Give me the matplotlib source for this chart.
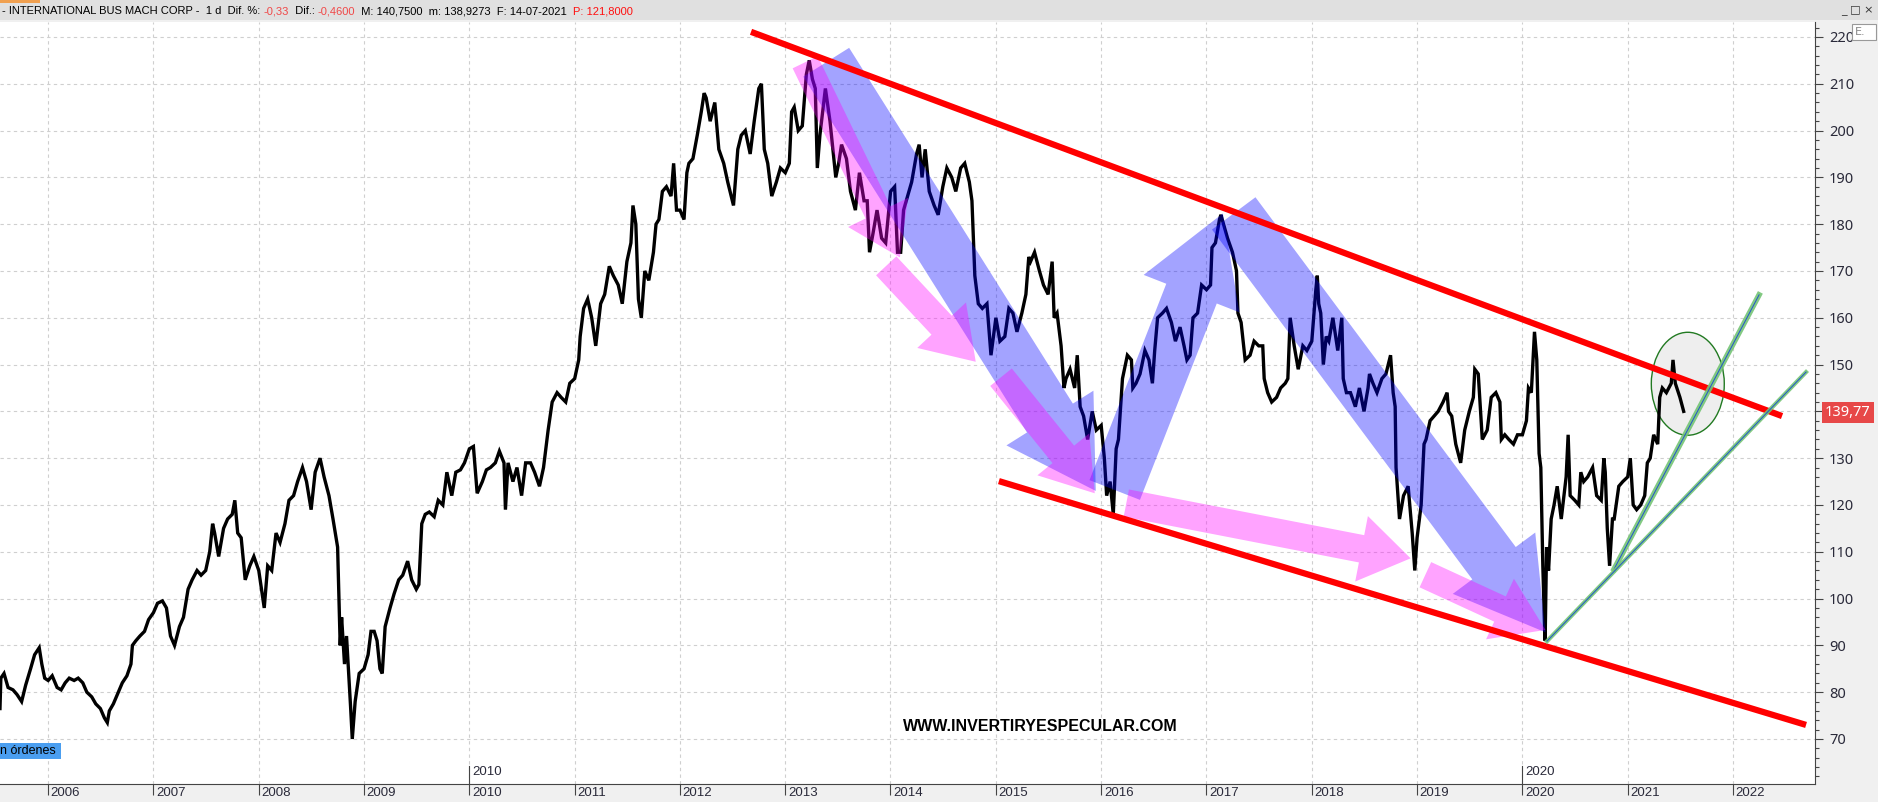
import pandas as pd
import matplotlib
matplotlib.use("Agg")
import matplotlib.pyplot as plt
import matplotlib.transforms as mtransforms
from matplotlib import font_manager
from matplotlib.patches import Ellipse, Rectangle
from matplotlib.ticker import MultipleLocator, FuncFormatter

# IBM daily price at roughly two points per month (month-day, price)
ibm_2005 = [("07-18", 76.5), ("07-21", 83), ("08-01", 84), ("08-15", 81), ("09-01", 80.5), ("09-15", 79.5),
            ("10-01", 78), ("10-15", 81.5), ("11-01", 85), ("11-15", 88), ("12-01", 89.5), ("12-10", 86),
            ("12-20", 83)]
ibm_2006 = [("01-01", 82.5), ("01-15", 83.5), ("02-01", 81), ("02-15", 80.5), ("03-01", 82), ("03-15", 83),
            ("04-01", 82.5), ("04-15", 83), ("05-01", 82), ("05-15", 80), ("06-01", 79), ("06-15", 77.5),
            ("07-01", 76.5), ("07-15", 74.5), ("07-25", 73.5), ("08-01", 76), ("08-15", 77.5), ("09-01", 80),
            ("09-15", 82), ("10-01", 83.5), ("10-15", 86), ("10-20", 90), ("11-01", 91), ("11-15", 92),
            ("12-01", 93), ("12-15", 95.5)]
ibm_2007 = [("01-01", 97), ("01-15", 99), ("02-01", 99.5), ("02-15", 98), ("03-01", 92), ("03-15", 90),
            ("04-01", 94), ("04-15", 96), ("05-01", 102), ("05-15", 104), ("06-01", 106), ("06-15", 105),
            ("07-01", 106), ("07-15", 110), ("07-25", 116), ("08-01", 114), ("08-15", 109), ("09-01", 115),
            ("09-15", 117), ("10-01", 118), ("10-10", 121), ("10-20", 114), ("11-01", 113), ("11-15", 104),
            ("12-01", 107), ("12-15", 109)]
ibm_2008 = [("01-01", 106), ("01-20", 98), ("02-01", 107), ("02-15", 106), ("03-01", 114), ("03-15", 112),
            ("04-01", 116), ("04-15", 121), ("05-01", 122), ("05-15", 125), ("06-01", 128), ("06-15", 125),
            ("07-01", 119), ("07-15", 127), ("08-01", 130), ("08-15", 126), ("09-01", 122), ("09-15", 117),
            ("10-01", 111), ("10-10", 90), ("10-15", 96), ("10-25", 86), ("11-01", 92), ("11-15", 77),
            ("11-21", 70), ("12-01", 78), ("12-15", 84)]
ibm_2009 = [("01-01", 85), ("01-15", 88), ("01-25", 93), ("02-05", 93), ("02-15", 91), ("02-25", 85),
            ("03-05", 84), ("03-15", 94), ("04-01", 98), ("04-15", 101), ("05-01", 104), ("05-15", 105),
            ("06-01", 108), ("06-15", 104), ("07-01", 102), ("07-10", 103), ("07-20", 116), ("08-01", 118),
            ("08-15", 118.5), ("09-01", 117.5), ("09-15", 121), ("10-01", 120), ("10-15", 127), ("11-01", 122),
            ("11-15", 127), ("12-01", 127.5), ("12-15", 129)]
ibm_2010 = [("01-01", 132), ("01-15", 132.5), ("01-28", 122.5), ("02-15", 125), ("03-01", 127.5), ("03-15", 128),
            ("04-01", 129), ("04-15", 131.5), ("05-01", 129), ("05-06", 119), ("05-15", 129), ("06-01", 125),
            ("06-15", 128), ("07-01", 122), ("07-15", 129), ("08-01", 129), ("08-15", 127), ("09-01", 124),
            ("09-15", 128), ("10-01", 136), ("10-15", 142), ("11-01", 144), ("11-15", 143), ("12-01", 142),
            ("12-15", 146)]
ibm_2011 = [("01-01", 147), ("01-15", 151), ("01-20", 156), ("02-01", 162), ("02-15", 164), ("03-01", 160),
            ("03-15", 154), ("04-01", 163), ("04-15", 165), ("05-01", 171), ("05-15", 169), ("06-01", 167),
            ("06-15", 163), ("07-01", 172), ("07-15", 176), ("07-22", 184), ("08-01", 180), ("08-10", 164),
            ("08-20", 160), ("09-01", 170), ("09-15", 168), ("10-01", 174), ("10-10", 180), ("10-20", 181),
            ("11-01", 187), ("11-15", 188), ("12-01", 186), ("12-10", 193), ("12-20", 183)]
ibm_2012 = [("01-01", 183), ("01-15", 181), ("01-25", 191), ("02-01", 193), ("02-15", 194), ("03-01", 199),
            ("03-15", 204), ("03-25", 208), ("04-01", 207), ("04-15", 202), ("05-01", 206), ("05-15", 196),
            ("06-01", 193), ("06-15", 189), ("07-05", 184), ("07-10", 188), ("07-20", 196), ("08-01", 199),
            ("08-15", 200), ("09-01", 195), ("09-15", 202), ("10-01", 209), ("10-10", 210), ("10-20", 196),
            ("11-01", 193), ("11-15", 186), ("12-01", 189), ("12-15", 192)]
ibm_2013 = [("01-01", 191), ("01-15", 193), ("01-23", 204), ("02-01", 205), ("02-15", 200), ("03-01", 201),
            ("03-15", 212), ("03-25", 215), ("04-05", 211), ("04-15", 209), ("04-22", 192), ("05-01", 199),
            ("05-20", 209), ("06-05", 202), ("06-15", 196), ("06-25", 190), ("07-05", 193), ("07-15", 197),
            ("08-01", 194), ("08-15", 187), ("09-01", 183), ("09-15", 191), ("10-01", 185), ("10-12", 185),
            ("10-20", 174), ("11-01", 178), ("11-15", 183), ("12-01", 177), ("12-15", 176)]
ibm_2014 = [("01-01", 187), ("01-15", 188), ("01-25", 174), ("02-05", 174), ("02-15", 183), ("03-01", 186),
            ("03-15", 189), ("04-01", 195), ("04-10", 197), ("04-20", 190), ("05-01", 196), ("05-15", 187),
            ("06-01", 184), ("06-15", 182), ("07-01", 188), ("07-15", 192), ("08-01", 190), ("08-15", 187),
            ("09-01", 192), ("09-15", 193), ("10-01", 189), ("10-10", 185), ("10-20", 169), ("11-01", 163),
            ("11-15", 162), ("12-01", 163), ("12-15", 152)]
ibm_2015 = [("01-01", 160), ("01-15", 155), ("02-01", 156), ("02-15", 162), ("03-01", 161), ("03-15", 157),
            ("04-01", 161), ("04-15", 165), ("04-25", 173), ("05-01", 172), ("05-15", 174), ("06-01", 170),
            ("06-15", 167), ("07-01", 165), ("07-15", 172), ("07-22", 160), ("08-01", 161), ("08-15", 154),
            ("08-25", 145), ("09-01", 147), ("09-15", 149), ("10-01", 145), ("10-10", 152), ("10-20", 141),
            ("11-01", 139), ("11-15", 134), ("12-01", 140), ("12-15", 136)]
ibm_2016 = [("01-01", 137), ("01-12", 130), ("01-20", 122), ("02-01", 125), ("02-12", 118), ("02-22", 132),
            ("03-01", 134), ("03-15", 147), ("04-01", 152), ("04-15", 151), ("04-20", 145), ("05-01", 146),
            ("05-15", 148), ("06-01", 153), ("06-15", 151), ("06-27", 146), ("07-05", 153), ("07-15", 160),
            ("08-01", 161), ("08-15", 162), ("09-01", 159), ("09-15", 155), ("10-01", 158), ("10-15", 154),
            ("10-25", 151), ("11-05", 152), ("11-15", 160), ("12-01", 161), ("12-15", 167)]
ibm_2017 = [("01-01", 166), ("01-15", 167), ("01-20", 175), ("02-01", 176), ("02-15", 181), ("02-20", 182),
            ("03-01", 180), ("03-15", 177), ("04-01", 174), ("04-15", 170), ("04-20", 161), ("05-01", 159),
            ("05-15", 151), ("06-01", 152), ("06-15", 155), ("07-01", 154), ("07-15", 154), ("07-20", 147),
            ("08-01", 144), ("08-15", 142), ("09-01", 143), ("09-15", 145), ("10-01", 146), ("10-10", 147),
            ("10-18", 160), ("11-01", 154), ("11-15", 149), ("12-01", 154), ("12-15", 153)]
ibm_2018 = [("01-01", 155), ("01-15", 166), ("01-20", 169), ("01-25", 163), ("02-01", 161), ("02-10", 150),
            ("02-20", 156), ("03-01", 155), ("03-15", 160), ("04-01", 153), ("04-15", 160), ("04-20", 147),
            ("05-01", 144), ("05-15", 144), ("06-01", 141), ("06-15", 145), ("07-01", 140), ("07-15", 145),
            ("07-20", 148), ("08-01", 146), ("08-15", 144), ("09-01", 147), ("09-15", 148), ("10-01", 152),
            ("10-10", 144), ("10-17", 141), ("10-20", 128), ("11-01", 117), ("11-15", 122), ("12-01", 124),
            ("12-15", 114), ("12-24", 106)]
ibm_2019 = [("01-01", 113), ("01-15", 120), ("01-25", 133), ("02-01", 134), ("02-15", 138), ("03-01", 139),
            ("03-15", 140), ("04-01", 142), ("04-15", 144), ("04-20", 140), ("05-01", 139), ("05-15", 133),
            ("06-01", 129), ("06-15", 136), ("07-01", 140), ("07-15", 143), ("07-20", 149), ("08-01", 148),
            ("08-15", 134), ("09-01", 136), ("09-15", 143), ("10-01", 144), ("10-15", 142), ("10-20", 134),
            ("11-01", 135), ("11-15", 134), ("12-01", 133), ("12-15", 135)]
ibm_2020 = [("01-01", 135), ("01-15", 138), ("01-22", 145), ("02-01", 144), ("02-12", 157), ("02-20", 151),
            ("02-28", 131), ("03-05", 128), ("03-12", 107), ("03-18", 94), ("03-20", 91), ("03-25", 111),
            ("04-01", 106), ("04-10", 117), ("04-20", 120), ("05-01", 124), ("05-15", 117), ("06-01", 126),
            ("06-08", 135), ("06-15", 122), ("07-01", 121), ("07-15", 120), ("07-22", 127), ("08-01", 125),
            ("08-15", 126), ("09-01", 128), ("09-15", 122), ("10-01", 121), ("10-10", 130), ("10-15", 127),
            ("10-22", 115), ("10-30", 107), ("11-09", 117), ("11-15", 117), ("12-01", 124), ("12-15", 125)]
ibm_2021 = [("01-01", 126), ("01-10", 130), ("01-20", 120), ("02-01", 119), ("02-15", 120), ("03-01", 122),
            ("03-10", 129), ("03-20", 130), ("04-01", 135), ("04-15", 133), ("04-22", 143), ("05-01", 145),
            ("05-15", 144), ("06-01", 146), ("06-07", 151), ("06-15", 146), ("07-01", 143), ("07-14", 140)]

price_years = [(2005, ibm_2005), (2006, ibm_2006), (2007, ibm_2007), (2008, ibm_2008), (2009, ibm_2009),
               (2010, ibm_2010), (2011, ibm_2011), (2012, ibm_2012), (2013, ibm_2013), (2014, ibm_2014),
               (2015, ibm_2015), (2016, ibm_2016), (2017, ibm_2017), (2018, ibm_2018), (2019, ibm_2019),
               (2020, ibm_2020), (2021, ibm_2021)]

last_price = 139.77
year_ticks = list(range(2006, 2023))

# drawn lines / annotations (decimal year, price)
upper_line = [(2012.676, 221.1), (2022.467, 139.0)]
lower_line = [(2015.03, 125.1), (2022.695, 73.0)]
green_fast = [(2020.872, 106.3), (2022.249, 164.9)]
green_slow = [(2020.235, 90.9), (2022.695, 148.4)]
blue_arrows = [((2013.39, 214.6), (2015.95, 123.0)),
               ((2016.13, 123.2), (2017.157, 182.3)),
               ((2017.26, 182.3), (2020.22, 92.8))]
pink_arrows = [((2013.19, 214.6), (2014.09, 172.9)),
               ((2013.96, 171.1), (2014.81, 150.6)),
               ((2015.05, 147.3), (2015.94, 122.5)),
               ((2016.24, 120.4), (2018.94, 108.6)),
               ((2019.08, 105.1), (2020.22, 93.3))]
circle_center = (2021.572, 145.9)

header_parts = [("- INTERNATIONAL BUS MACH CORP -  1 d  Dif. %: ", "black"), ("-0,33", "#f04848"),
                ("  Dif.: ", "black"), ("-0,4600", "#f04848"),
                ("  M: 140,7500  m: 138,9273  F: 14-07-2021  ", "black"), ("P: 121,8000", "#ff1010")]


def dec_year(s):
    d = pd.Timestamp(s)
    return d.year + (d.dayofyear - 0.5) / (366 if d.is_leap_year else 365)


xs, ys = [], []
for yr, pts in price_years:
    for md, p in pts:
        xs.append(dec_year(f"{yr}-{md}"))
        ys.append(p)

installed = {f.name for f in font_manager.fontManager.ttflist}
narrow = "Liberation Sans Narrow" if "Liberation Sans Narrow" in installed else "Liberation Sans"

W, H = 1878, 802
fig = plt.figure(figsize=(W / 100, H / 100), dpi=100, facecolor="#f0f0f0")
ax = fig.add_axes([0, 18 / H, 1815 / W, (784 - 22) / H])
ax.set_facecolor("white")
ax.set_xlim(2005.544, 2022.78)
ax.set_ylim(60.38, 223.2)

# grid
ax.grid(True, which="major", color="#cfcfcf", linestyle=(0, (3, 3)), linewidth=0.8)
ax.set_axisbelow(True)

# circled zone
ax.add_patch(Ellipse(circle_center, 0.693, 22.0, facecolor="#eeeeee", edgecolor="#227a22", lw=1, zorder=1.5))

# price
ax.plot(xs, ys, color="black", lw=2.4, zorder=2, solid_joinstyle="miter")

# arrows
for tail, tip in blue_arrows:
    ax.annotate("", xy=tip, xytext=tail, zorder=3,
                arrowprops=dict(arrowstyle="simple,head_length=6.2,head_width=7.4,tail_width=3.9",
                                mutation_scale=10, fc=(0, 0, 1, 0.36), ec="none", lw=0,
                                shrinkA=0, shrinkB=0))
for tail, tip in pink_arrows:
    ax.annotate("", xy=tip, xytext=tail, zorder=3,
                arrowprops=dict(arrowstyle="simple,head_length=3.6,head_width=4.8,tail_width=2.0",
                                mutation_scale=10, fc=(1, 0, 1, 0.36), ec="none", lw=0,
                                shrinkA=0, shrinkB=0))

# trend lines
for line in (upper_line, lower_line):
    ax.plot([line[0][0], line[1][0]], [line[0][1], line[1][1]], color="#ff0000", lw=4.5,
            solid_capstyle="butt", zorder=4)
for line, w in ((green_fast, 4.0), (green_slow, 3.0)):
    lx = [line[0][0], line[1][0]]
    ly = [line[0][1], line[1][1]]
    ax.plot(lx, ly, color="#74c474", lw=w, alpha=0.9, zorder=5)
    ax.plot(lx, ly, color="#2255cc", lw=0.7, zorder=5)

# axes styling
for s in ("left", "top"):
    ax.spines[s].set_visible(False)
ax.spines["right"].set_color("#444444")
ax.spines["bottom"].set_color("#444444")

ax.yaxis.tick_right()
ax.yaxis.set_major_locator(MultipleLocator(10))
ax.yaxis.set_minor_locator(MultipleLocator(2))
# the 140 label sits under the last-price flag
ax.yaxis.set_major_formatter(FuncFormatter(lambda v, p: "" if abs(v - 140) < 0.5 else f"{v:.0f}"))
ax.tick_params(axis="y", which="major", length=6, width=0.8, color="#444444", pad=4,
               labelsize=10.5, labelcolor="#2a2a3a")
ax.tick_params(axis="y", which="minor", length=3, width=0.8, color="#444444")
for lab in ax.get_yticklabels():
    lab.set_fontfamily("Noto Sans")

ax.set_xticks(year_ticks, labels=[str(y) for y in year_ticks])
ax.tick_params(axis="x", which="major", length=8, width=0.8, color="#444444", pad=-6,
               labelsize=9.5, labelcolor="#2a2a3a")
shift = mtransforms.ScaledTranslation(2 / 72, 0, fig.dpi_scale_trans)
for lab in ax.get_xticklabels():
    lab.set_horizontalalignment("left")
    lab.set_fontfamily(narrow)
    lab.set_transform(lab.get_transform() + shift)

# decade markers inside the plot
trans = mtransforms.blended_transform_factory(ax.transData, ax.transAxes)
for yr in (2010, 2020):
    ax.plot([yr, yr], [0, 18 / 762], transform=trans, color="#444444", lw=0.8, clip_on=False, zorder=6)
    ax.text(yr, 12 / 762, str(yr), transform=trans + shift, ha="left", va="center",
            fontsize=9.5, family=narrow, color="#2a2a3a")

# last price flag
ytrans = mtransforms.blended_transform_factory(ax.transAxes, ax.transData)
ax.text(1.0, last_price, "139,77", transform=ytrans + mtransforms.ScaledTranslation(10 / 100, 0, fig.dpi_scale_trans),
        ha="left", va="center", color="white", fontsize=10.5, family="Noto Sans",
        bbox=dict(boxstyle="square,pad=0.2", fc="#e74848", ec="none"))

# watermark
ax.text(0.573, 0.076, "WWW.INVERTIRYESPECULAR.COM", transform=ax.transAxes, ha="center", va="center",
        fontsize=11.5, fontweight="bold", family=narrow, color="black", zorder=7)

# header bar
fig.add_artist(Rectangle((0, 1 - 20 / H), 1, 20 / H, transform=fig.transFigure, fc="#e0e0e0", ec="none"))
fig.add_artist(Rectangle((0, 1 - 3 / H), 40 / W, 3 / H, transform=fig.transFigure, fc="#f0a050", ec="none"))
fig.canvas.draw()
r = fig.canvas.get_renderer()
xpos = 2
for s, c in header_parts:
    t = fig.text(xpos / W, 1 - 11 / H, s, color=c, fontsize=8.0, family="Liberation Sans", ha="left", va="center")
    xpos = t.get_window_extent(r).x1
fig.text(1 - 4 / W, 1 - 10 / H, "_ \u25a1 \u00d7", fontsize=8, ha="right", va="center", color="#333333")

# small box at top right of price scale
fig.add_artist(Rectangle((1852 / W, 1 - 40 / H), 24 / W, 16 / H, transform=fig.transFigure,
                         fc="white", ec="#999999", lw=0.8))
fig.text(1855 / W, 1 - 32 / H, "E.", fontsize=8, color="#888888", va="center")

# order panel label bottom left
fig.text(0, 1 - 751 / H, "n órdenes ", fontsize=9, family="Liberation Sans", va="center", ha="left",
         bbox=dict(boxstyle="square,pad=0.15", fc="#4a9ef0", ec="none"))

fig.savefig("out.png", dpi=100, facecolor=fig.get_facecolor())
